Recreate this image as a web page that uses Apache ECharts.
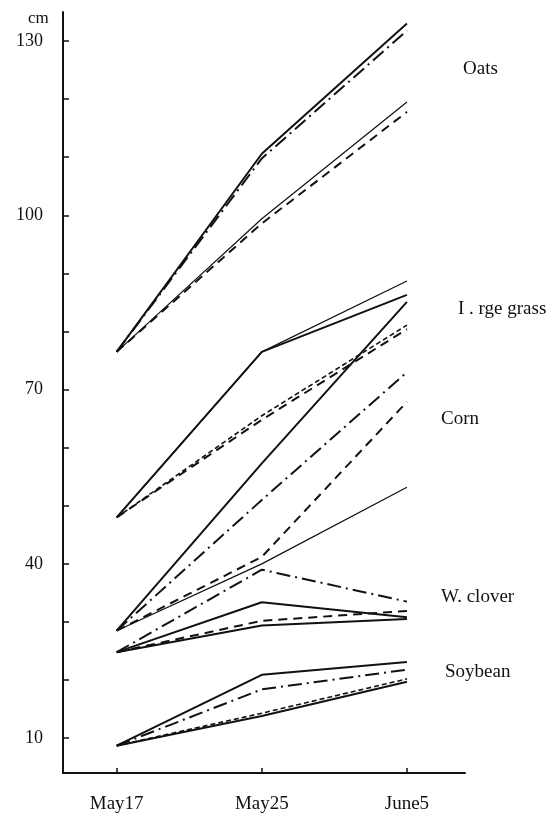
<!DOCTYPE html>
<html>
<head>
<meta charset="utf-8">
<script src="https://cdn.jsdelivr.net/npm/echarts@6/dist/echarts.min.js"></script>
<style>
  html, body { margin: 0; padding: 0; background: #fff; }
  #chart { width: 551px; height: 822px; }
</style>
</head>
<body>
<div id="chart"></div>
<script>
// 观测日期
const dates = ['May17', 'May25', 'June5'];
const yLabels = [10, 40, 70, 100, 130];
const yTicks = [10, 20, 30, 40, 50, 60, 70, 80, 90, 100, 110, 120, 130];

// 株高 (cm)，每种作物四条线
const oatsA = [76.5, 110.6, 133.0];
const oatsB = [76.5, 109.8, 131.8];
const oatsC = [76.5, 99.4, 119.5];
const oatsD = [76.5, 98.6, 117.8];

const grassA = [48, 76.5, 86.3];
const grassB = [48, 76.5, 88.7];
const grassC = [48, 65.5, 81.1];
const grassD = [48, 64.8, 80.4];

const cornA = [28.5, 57.3, 85.1];
const cornB = [28.5, 51, 73];
const cornC = [28.5, 41.2, 67.9];
const cornD = [28.5, 40, 53.2];

const cloverA = [24.8, 33.4, 30.8];
const cloverB = [24.8, 39, 33.5];
const cloverC = [24.8, 30.2, 31.9];
const cloverD = [24.8, 29.4, 30.5];

const soyA = [8.7, 20.9, 23.1];
const soyB = [8.7, 18.4, 21.8];
const soyC = [8.7, 14.3, 20.2];
const soyD = [8.7, 13.8, 19.7];

const cropNames = ['Oats', 'I . rge grass', 'Corn', 'W. clover', 'Soybean'];

const font = '"Liberation Serif", "DejaVu Serif", serif';

// 线型
const solidTick = { color: '#111', type: 'solid', width: 2 };
const thin = { color: '#111', type: 'solid', width: 1.2 };
const dashDot = { color: '#111', type: [14, 5, 2, 5], width: 2 };
const dashed = { color: '#111', type: [9, 6], width: 2 };
const ringDash = { color: '#111', type: [5, 3], width: 1.6 };

function line(name, values, style) {
  return {
    name: name,
    type: 'line',
    symbol: 'none',
    silent: true,
    lineStyle: style,
    data: values.map((v, i) => [i, v]),
  };
}

const series = [
  line('Oats A', oatsA, solidTick),
  line('Oats B', oatsB, dashDot),
  line('Oats C', oatsC, thin),
  line('Oats D', oatsD, dashed),
  line('Grass A', grassA, solidTick),
  line('Grass B', grassB, thin),
  line('Grass C', grassC, ringDash),
  line('Grass D', grassD, dashed),
  line('Corn A', cornA, solidTick),
  line('Corn B', cornB, dashDot),
  line('Corn C', cornC, dashed),
  line('Corn D', cornD, thin),
  line('Clover A', cloverA, solidTick),
  line('Clover B', cloverB, dashDot),
  line('Clover C', cloverC, dashed),
  line('Clover D', cloverD, solidTick),
  line('Soy A', soyA, solidTick),
  line('Soy B', soyB, dashDot),
  line('Soy C', soyC, ringDash),
  line('Soy D', soyD, solidTick),
];

// 右侧作物名称
const labelPos = [
  [463, 60],
  [458, 300],
  [441, 410],
  [441, 588],
  [445, 663],
];

const chart = echarts.init(document.getElementById('chart'));
chart.setOption({
  backgroundColor: '#fff',
  animation: false,
  title: {
    text: 'cm',
    left: 23,
    top: 5,
    textStyle: { fontFamily: font, fontSize: 17, fontWeight: 'normal', color: '#111' },
  },
  grid: { left: 63, right: 86, top: 12, bottom: 49 },
  xAxis: {
    type: 'value',
    min: -0.37,
    max: 2.4,
    splitLine: { show: false },
    axisLine: { show: true, onZero: false, lineStyle: { color: '#111', width: 2 } },
    axisTick: { show: true, inside: true, length: 5, customValues: [0, 1, 2], lineStyle: { color: '#111', width: 1.5 } },
    axisLabel: {
      customValues: [0, 1, 2],
      formatter: (v) => dates[Math.round(v)],
      margin: 22,
      fontFamily: font,
      fontSize: 19,
      color: '#111',
    },
  },
  yAxis: {
    type: 'value',
    min: 4,
    max: 135,
    splitLine: { show: false },
    axisLine: { show: true, onZero: false, lineStyle: { color: '#111', width: 2 } },
    axisTick: { show: true, inside: true, length: 6, customValues: yTicks, lineStyle: { color: '#111', width: 1.5 } },
    axisLabel: {
      customValues: yLabels,
      margin: 20,
      fontFamily: font,
      fontSize: 18,
      color: '#111',
    },
  },
  graphic: cropNames.map((name, i) => ({
    type: 'text',
    left: labelPos[i][0],
    top: labelPos[i][1],
    style: { text: name, font: '19px ' + font, fill: '#111' },
  })),
  series: series,
});
</script>
</body>
</html>
